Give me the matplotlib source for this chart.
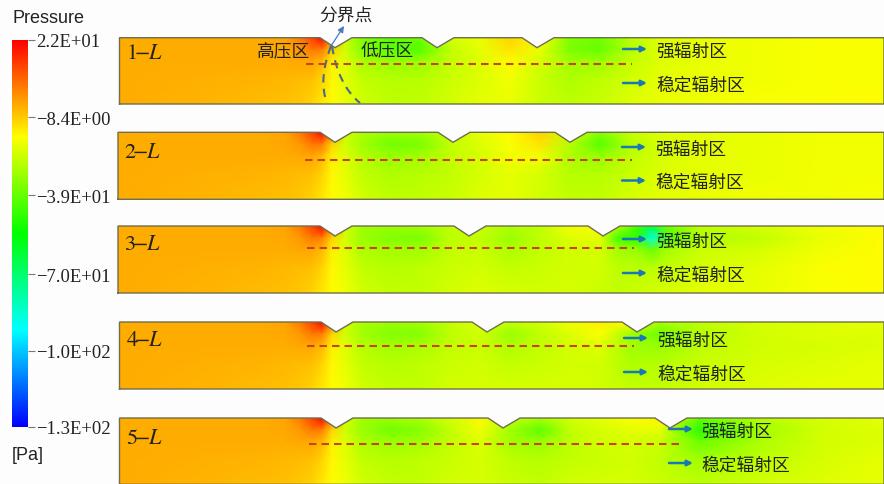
import numpy as np
import matplotlib
matplotlib.use('Agg')
import matplotlib.pyplot as plt
from matplotlib.colors import LinearSegmentedColormap, Normalize
from matplotlib.cm import ScalarMappable
from matplotlib.patches import PathPatch, FancyArrowPatch
from matplotlib.path import Path

plt.rcParams['mathtext.fontset'] = 'stix'
CJK = ['Noto Sans CJK SC', 'DejaVu Sans']
SERIF = 'Liberation Serif'
SANS = 'Liberation Sans'

P_MAX = 22
P_MIN = -130
CB_TICKS = [22, -8.4, -39, -70, -100, -130]
CB_LABELS = ['2.2E+01', '\u22128.4E+00', '\u22123.9E+01', '\u22127.0E+01', '\u22121.0E+02', '\u22121.3E+02']

# depth below the top wall where the pressure was read (pixels of the picture)
DEPTHS = [0, 12, 24, 42, 67]

# inlet part, looks the same in all five cases
LEFT_X = [119, 200, 260, 285, 300, 312, 322, 332]
LEFT_P = [[-4, -4, -4, -2.5, 3, 12, 21, 0],
          [-4, -4, -4, -3.5, -1, 4, 3, -9],
          [-4, -4, -4, -4, -3.5, -3.5, -5.5, -14],
          [-4, -4.5, -5, -5.5, -6, -7, -10, -15],
          [-4, -5, -6, -7, -8, -10, -13, -16]]

X_COMMON = [345, 362, 390, 420, 450, 480, 510, 540, 570, 600, 630, 660, 700, 760, 820, 884]
X_CASE3 = [345, 362, 390, 420, 450, 480, 510, 540, 570, 600, 618, 638, 652, 666, 700, 760, 820, 884]

P_CASE1 = [[-24, -35, -40, -38, -23, -19, -10, -16, -35, -37, -27, -21, -19, -18, -17, -17],
           [-23, -34, -41, -41, -25, -20, -12, -19, -36, -39, -27, -21, -19, -18, -17, -17],
           [-21, -29, -32, -32, -25, -21, -16, -22, -30, -31, -25, -21, -19, -18, -17, -17],
           [-20, -25, -27, -27, -24, -21, -18, -24, -28, -26, -23, -20, -19, -18, -17, -17],
           [-19, -23, -26, -25, -23, -20, -19, -24, -26, -24, -21, -19, -18, -17, -17, -16]]
P_CASE2 = [[-23, -29, -31, -30, -25, -20, -16, -9, -22, -35, -25, -21, -20, -19, -18, -18],
           [-23, -30, -37, -36, -25, -21, -17, -12, -27, -41, -27, -22, -20, -19, -18, -18],
           [-21, -27, -31, -30, -25, -22, -18, -18, -28, -32, -26, -22, -20, -19, -18, -18],
           [-20, -25, -28, -27, -25, -22, -20, -22, -27, -27, -24, -21, -20, -19, -18, -18],
           [-18, -23, -26, -25, -24, -21, -20, -23, -25, -25, -22, -20, -19, -18, -18, -17]]
P_CASE3 = [[-23, -30, -31, -30, -25, -24, -28, -25, -18, -16, -27, -46, -62, -38, -26, -22, -18, -16],
           [-23, -31, -35, -36, -26, -25, -31, -26, -21, -20, -44, -48, -88, -44, -28, -25, -19, -16],
           [-21, -28, -30, -30, -25, -24, -28, -25, -23, -22, -30, -32, -38, -30, -24, -22, -18, -16],
           [-20, -25, -27, -26, -24, -23, -25, -24, -23, -23, -26, -26, -26, -25, -22, -20, -17, -16],
           [-18, -23, -25, -25, -23, -21, -22, -23, -22, -24, -25, -24, -23, -22, -20, -19, -17, -16]]
P_CASE4 = [[-23, -29, -31, -30, -25, -21, -25, -23, -18, -14, -16, -29, -26, -22, -21, -20],
           [-23, -30, -35, -34, -26, -23, -31, -26, -21, -17, -30, -38, -27, -23, -21, -21],
           [-21, -27, -30, -29, -25, -24, -28, -25, -23, -21, -30, -32, -26, -23, -22, -21],
           [-20, -25, -27, -26, -24, -23, -25, -24, -23, -23, -28, -27, -24, -22, -21, -20],
           [-18, -23, -25, -25, -23, -22, -22, -22, -22, -23, -25, -25, -23, -21, -20, -19]]
P_CASE5 = [[-23, -30, -31, -28, -23, -15, -25, -29, -23, -20, -17, -15, -40, -27, -22, -20],
           [-23, -31, -37, -34, -25, -18, -30, -40, -25, -22, -20, -20, -48, -30, -23, -21],
           [-21, -28, -31, -30, -25, -21, -30, -32, -26, -23, -22, -24, -38, -28, -23, -21],
           [-20, -25, -27, -26, -24, -22, -26, -27, -25, -24, -23, -25, -30, -26, -22, -20],
           [-18, -23, -25, -25, -23, -22, -24, -25, -23, -22, -22, -24, -26, -23, -21, -19]]

CASE_NAMES = ['1', '2', '3', '4', '5']
CASE_X = [X_COMMON, X_COMMON, X_CASE3, X_COMMON, X_COMMON]
CASE_P = [P_CASE1, P_CASE2, P_CASE3, P_CASE4, P_CASE5]
TOPS = [37.7, 132.3, 226, 322, 418]
BOTTOMS = [104, 199.3, 293, 389, 484.3]
LEFTS = [119.5, 118, 118, 119.5, 119.5]
GROOVES = [[335, 437, 537], [335, 453, 570], [335, 469, 603], [336, 487, 637], [336, 503, 670]]

NAME_Y = [52, 151, 243, 339, 437]
DASH_X = [(306, 632), (305, 632), (307, 634), (307, 634), (309, 683)]
DASH_Y = [64, 160, 247.5, 346, 444]
ARROW_X = [623, 622, 623, 624, 669]
ARROW_Y = [(49, 83), (147, 180.5), (239, 273), (338, 372), (429, 463)]
TEXT_X = [656, 655, 656, 657, 701]

cmap = LinearSegmentedColormap.from_list('fluent', ['#0000ff', '#00ffff', '#00ff00', '#ffff00', '#ff0000'])
norm = Normalize(P_MIN, P_MAX)

fig = plt.figure(figsize=(8.84, 4.85), dpi=100, facecolor='#fdfdfd')
ax = fig.add_axes([0, 0, 1, 1])
ax.set_xlim(0, 884)
ax.set_ylim(484, -1)
ax.axis('off')


def wall_outline(left, top, bottom, grooves):
    pts = [(left, bottom), (left, top)]
    for g in grooves:
        pts += [(g - 15, top), (g, top + 10), (g + 17, top)]
    pts += [(884, top), (884, bottom)]
    return pts


for i in range(5):
    top, bottom = TOPS[i], BOTTOMS[i]
    xs = np.array(LEFT_X + CASE_X[i], dtype=float)
    xs[0] = LEFTS[i]
    ys = top + np.array(DEPTHS) * (bottom - top) / 67
    pres = np.hstack([np.array(LEFT_P), np.array(CASE_P[i])])
    mesh = ax.pcolormesh(xs, ys, pres, cmap=cmap, norm=norm, shading='gouraud', rasterized=True)
    pts = wall_outline(LEFTS[i], top, bottom, GROOVES[i])
    clip = PathPatch(Path(pts + [pts[0]]), transform=ax.transData, fc='none', ec='none')
    ax.add_patch(clip)
    mesh.set_clip_path(clip)
    closed = np.array(pts + [pts[0]])
    ax.plot(closed[:, 0], closed[:, 1], color='#6e6e50', lw=1.0, solid_joinstyle='miter')

    ax.plot(DASH_X[i], [DASH_Y[i]] * 2, color='#c8451c', lw=1.5, dashes=(3.6, 2.4))
    ax.text(LEFTS[i] + 6, NAME_Y[i], r'$\mathrm{%s}\!\!-\!\!L$' % CASE_NAMES[i], fontsize=16,
            color='#222222', va='center', ha='left')
    labels = ['强辐射区', '稳定辐射区']
    for y, s in zip(ARROW_Y[i], labels):
        ax.add_patch(FancyArrowPatch((ARROW_X[i], y), (ARROW_X[i] + 24, y), arrowstyle='-|>',
                                     mutation_scale=8, lw=1.8, color='#1878b8', shrinkA=0, shrinkB=0))
        ax.text(TEXT_X[i], y + 1.5, s, family=CJK, fontsize=12.8, color='#222222', va='center', ha='left')

# annotations of case 1
ax.text(346, 15, '分界点', family=CJK, fontsize=12.8, color='#222222', ha='center', va='center')
ax.text(284, 50, '高压区', family=CJK, fontsize=12.8, color='#222222', ha='center', va='center')
ax.text(387, 50, '低压区', family=CJK, fontsize=12.8, color='#222222', ha='center', va='center')
ax.add_patch(FancyArrowPatch((331, 46), (344, 26), arrowstyle='-|>', mutation_scale=9, lw=0.9,
                             color='#4a78c0', shrinkA=0, shrinkB=0))
bound = dict(fc='none', ec='#4a6a88', lw=1.5, ls=(0, (4, 3)))
ax.add_patch(PathPatch(Path([(331, 46), (318, 80), (327, 103)], [Path.MOVETO, Path.CURVE3, Path.CURVE3]), **bound))
ax.add_patch(PathPatch(Path([(332, 46), (338, 85), (360, 103)], [Path.MOVETO, Path.CURVE3, Path.CURVE3]), **bound))

# colour bar
cax = fig.add_axes([12 / 884, 1 - 428 / 485, 16 / 884, 387 / 485])
cb = fig.colorbar(ScalarMappable(norm=norm, cmap=cmap), cax=cax, ticks=CB_TICKS)
cb.outline.set_visible(False)
cb.ax.tick_params(length=5, width=0.8, color='#777777', pad=1)
cb.ax.set_yticklabels(CB_LABELS, family=SERIF, fontsize=13.4, color='#222222')

fig.text(12 / 884, 1 - 18.5 / 485, 'Pressure', family=SANS, fontsize=13, color='#222222', va='center')
fig.text(12 / 884, 1 - 456 / 485, '[Pa]', family=SANS, fontsize=13, color='#222222', va='center')

fig.savefig('out.png', dpi=100, facecolor=fig.get_facecolor())
